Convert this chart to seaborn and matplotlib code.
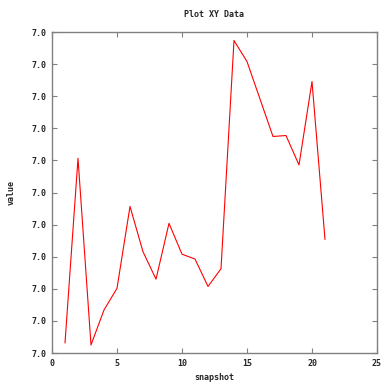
import numpy as np
import pandas as pd
import matplotlib
matplotlib.use("Agg")
import matplotlib.pyplot as plt
from matplotlib.ticker import FormatStrFormatter
import seaborn as sns

# Snapshot series
snapshot = [1, 2, 3, 4, 5, 6, 7, 8, 9, 10, 11, 12, 13, 14, 15, 16, 17, 18, 19, 20, 21]
value = [7.00125, 7.02426, 7.00100, 7.00536, 7.00806, 7.01826, 7.01262,
         7.00920, 7.01616, 7.01231, 7.01171, 7.00829, 7.01050, 7.03894,
         7.03632, 7.03165, 7.02698, 7.02710, 7.02343, 7.03383, 7.01414]

x_ticks = [0, 5, 10, 15, 20, 25]
y_ticks = list(np.linspace(7.0, 7.04, 11))

sns.set_style("white")
plt.rcParams["font.family"] = ["DejaVu Sans Mono", "DejaVu Sans"]
plt.rcParams["font.weight"] = "bold"

df = pd.DataFrame({"snapshot": snapshot, "value": value})

fig = plt.figure(figsize=(3.82, 3.85), dpi=100)
ax = fig.add_axes([52 / 382, 1 - 353 / 385, 325 / 382, 321 / 385])

sns.lineplot(data=df, x="snapshot", y="value", ax=ax, color="#ff0000",
             linewidth=0.8, estimator=None, sort=False)

ax.set_xlim(0, 25)
ax.set_ylim(7.0, 7.04)
ax.set_xticks(x_ticks)
ax.set_yticks(y_ticks)
ax.yaxis.set_major_formatter(FormatStrFormatter("%.1f"))

fs = 6.0
ax.tick_params(axis="both", which="major", direction="in", length=3.5,
               width=0.8, color="#808080", labelsize=fs, pad=4,
               top=True, right=True, bottom=True, left=True)
for lbl in ax.get_xticklabels() + ax.get_yticklabels():
    lbl.set_fontweight("bold")

for sp in ax.spines.values():
    sp.set_visible(True)
    sp.set_color("#808080")
    sp.set_linewidth(1.0)

ax.set_title("Plot XY Data", fontsize=fs, fontweight="bold", pad=11)
ax.set_xlabel("snapshot", fontsize=fs, fontweight="bold", labelpad=4)
ax.set_ylabel("value", fontsize=fs, fontweight="bold", labelpad=11)

fig.savefig("out.png", dpi=100)
